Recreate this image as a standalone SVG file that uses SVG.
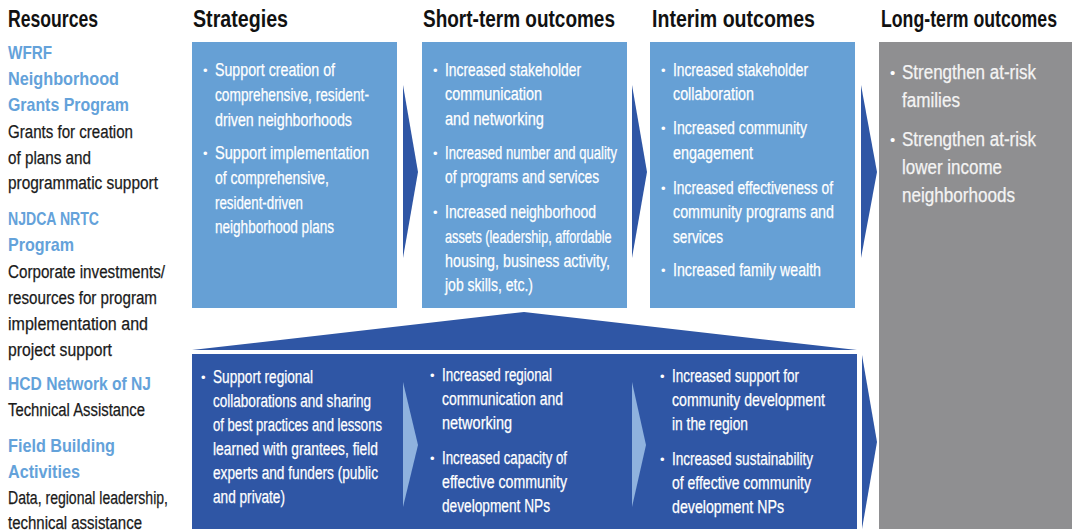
<svg xmlns="http://www.w3.org/2000/svg" width="1072" height="531" viewBox="0 0 1072 531">
  <style>
    text { font-family: "Liberation Sans", Arial, sans-serif; }
    .h { font-size: 23px; font-weight: bold; fill: #111111; }
    .rh { font-size: 19px; font-weight: bold; fill: #64a2da; }
    .r { font-size: 18px; fill: #1a1a1a; stroke: #1a1a1a; stroke-width: 0.25px; }
    .b { font-size: 18px; fill: #ffffff; stroke: #ffffff; stroke-width: 0.25px; }
    .lb { font-size: 19.5px; fill: #f4f4f4; stroke: #f4f4f4; stroke-width: 0.25px; }
    .dot { font-size: 13px; fill: #ffffff; }
    .light { fill: #66a0d5; }
    .dark { fill: #2f56a5; }
    .grey { fill: #8f8f91; }
    .arrow { fill: #2f56a5; }
    .arrow-soft { fill: #8fb2de; }
  </style>

  <rect width="1072" height="531" fill="#ffffff"/>

  <!-- column headings -->
  <g id="headings">
    <text class="h" x="8" y="27" textLength="90" lengthAdjust="spacingAndGlyphs">Resources</text>
    <text class="h" x="193" y="27" textLength="95" lengthAdjust="spacingAndGlyphs">Strategies</text>
    <text class="h" x="423" y="27" textLength="192" lengthAdjust="spacingAndGlyphs">Short-term outcomes</text>
    <text class="h" x="652" y="27" textLength="163" lengthAdjust="spacingAndGlyphs">Interim outcomes</text>
    <text class="h" transform="translate(881,27) scale(0.77,1)">Long-term outcomes</text>
  </g>

  <!-- resources column -->
  <g id="resources">
    <text class="rh" x="8" y="59" textLength="44" lengthAdjust="spacingAndGlyphs">WFRF</text>
    <text class="rh" x="8" y="85" textLength="111" lengthAdjust="spacingAndGlyphs">Neighborhood</text>
    <text class="rh" x="8" y="111" textLength="121" lengthAdjust="spacingAndGlyphs">Grants Program</text>
    <text class="r" x="8" y="138" textLength="125" lengthAdjust="spacingAndGlyphs">Grants for creation</text>
    <text class="r" x="8" y="164" textLength="83" lengthAdjust="spacingAndGlyphs">of plans and</text>
    <text class="r" x="8" y="189" textLength="150" lengthAdjust="spacingAndGlyphs">programmatic support</text>
    <text class="rh" x="8" y="225" textLength="91" lengthAdjust="spacingAndGlyphs">NJDCA NRTC</text>
    <text class="rh" x="8" y="251" textLength="66" lengthAdjust="spacingAndGlyphs">Program</text>
    <text class="r" x="8" y="278" textLength="157" lengthAdjust="spacingAndGlyphs">Corporate investments/</text>
    <text class="r" x="8" y="304" textLength="149" lengthAdjust="spacingAndGlyphs">resources for program</text>
    <text class="r" x="8" y="330" textLength="140" lengthAdjust="spacingAndGlyphs">implementation and</text>
    <text class="r" x="8" y="356" textLength="104" lengthAdjust="spacingAndGlyphs">project support</text>
    <text class="rh" x="8" y="390" textLength="143" lengthAdjust="spacingAndGlyphs">HCD Network of NJ</text>
    <text class="r" x="8" y="416" textLength="137" lengthAdjust="spacingAndGlyphs">Technical Assistance</text>
    <text class="rh" x="8" y="452" textLength="107" lengthAdjust="spacingAndGlyphs">Field Building</text>
    <text class="rh" x="8" y="478" textLength="72" lengthAdjust="spacingAndGlyphs">Activities</text>
    <text class="r" x="8" y="504" textLength="160" lengthAdjust="spacingAndGlyphs">Data, regional leadership,</text>
    <text class="r" x="8" y="529" textLength="134" lengthAdjust="spacingAndGlyphs">technical assistance</text>
  </g>

  <!-- neighborhood track -->
  <g id="strategies">
    <rect class="light" x="192" y="42" width="205" height="266"/>
    <text class="dot" x="203" y="75">•</text>
    <text class="b" x="215" y="76" textLength="120" lengthAdjust="spacingAndGlyphs">Support creation of</text>
    <text class="b" x="215" y="101" textLength="154" lengthAdjust="spacingAndGlyphs">comprehensive, resident-</text>
    <text class="b" x="215" y="126" textLength="137" lengthAdjust="spacingAndGlyphs">driven neighborhoods</text>
    <text class="dot" x="203" y="158">•</text>
    <text class="b" x="215" y="159" textLength="154" lengthAdjust="spacingAndGlyphs">Support implementation</text>
    <text class="b" x="215" y="184" textLength="114" lengthAdjust="spacingAndGlyphs">of comprehensive,</text>
    <text class="b" x="215" y="209" textLength="88" lengthAdjust="spacingAndGlyphs">resident-driven</text>
    <text class="b" x="215" y="233" textLength="119" lengthAdjust="spacingAndGlyphs">neighborhood plans</text>
  </g>

  <g id="short-term">
    <rect class="light" x="422" y="42" width="205" height="266"/>
    <text class="dot" x="433" y="75">•</text>
    <text class="b" x="445" y="76" textLength="136" lengthAdjust="spacingAndGlyphs">Increased stakeholder</text>
    <text class="b" x="445" y="100" textLength="97" lengthAdjust="spacingAndGlyphs">communication</text>
    <text class="b" x="445" y="125" textLength="99" lengthAdjust="spacingAndGlyphs">and networking</text>
    <text class="dot" x="433" y="158">•</text>
    <text class="b" x="445" y="159" textLength="172" lengthAdjust="spacingAndGlyphs">Increased number and quality</text>
    <text class="b" x="445" y="183" textLength="154" lengthAdjust="spacingAndGlyphs">of programs and services</text>
    <text class="dot" x="433" y="217">•</text>
    <text class="b" x="445" y="218" textLength="151" lengthAdjust="spacingAndGlyphs">Increased neighborhood</text>
    <text class="b" transform="translate(445,243) scale(0.707,1)">assets (leadership, affordable</text>
    <text class="b" x="445" y="267" textLength="165" lengthAdjust="spacingAndGlyphs">housing, business activity,</text>
    <text class="b" x="445" y="291" textLength="88" lengthAdjust="spacingAndGlyphs">job skills, etc.)</text>
  </g>

  <g id="interim">
    <rect class="light" x="650" y="42" width="205" height="266"/>
    <text class="dot" x="661" y="75">•</text>
    <text class="b" x="673" y="76" textLength="135" lengthAdjust="spacingAndGlyphs">Increased stakeholder</text>
    <text class="b" x="673" y="100" textLength="81" lengthAdjust="spacingAndGlyphs">collaboration</text>
    <text class="dot" x="661" y="133">•</text>
    <text class="b" x="673" y="134" textLength="134" lengthAdjust="spacingAndGlyphs">Increased community</text>
    <text class="b" x="673" y="159" textLength="80" lengthAdjust="spacingAndGlyphs">engagement</text>
    <text class="dot" x="661" y="193">•</text>
    <text class="b" x="673" y="194" textLength="160" lengthAdjust="spacingAndGlyphs">Increased effectiveness of</text>
    <text class="b" x="673" y="218" textLength="161" lengthAdjust="spacingAndGlyphs">community programs and</text>
    <text class="b" x="673" y="243" textLength="50" lengthAdjust="spacingAndGlyphs">services</text>
    <text class="dot" x="661" y="275">•</text>
    <text class="b" x="673" y="276" textLength="148" lengthAdjust="spacingAndGlyphs">Increased family wealth</text>
  </g>

  <g id="long-term">
    <rect class="grey" x="879" y="42" width="193" height="487"/>
    <text class="dot" x="890" y="78" style="font-size:15px">•</text>
    <text class="lb" x="902" y="79" textLength="134" lengthAdjust="spacingAndGlyphs">Strengthen at-risk</text>
    <text class="lb" x="902" y="107" textLength="58" lengthAdjust="spacingAndGlyphs">families</text>
    <text class="dot" x="890" y="145" style="font-size:15px">•</text>
    <text class="lb" x="902" y="146" textLength="134" lengthAdjust="spacingAndGlyphs">Strengthen at-risk</text>
    <text class="lb" x="902" y="174" textLength="100" lengthAdjust="spacingAndGlyphs">lower income</text>
    <text class="lb" x="902" y="202" textLength="113" lengthAdjust="spacingAndGlyphs">neighborhoods</text>
  </g>

  <!-- regional field-building track -->
  <g id="regional-track">
    <polygon class="dark" points="192,350 524,312 857,350"/>
    <rect class="dark" x="192" y="354" width="665" height="175"/>
  </g>

  <g id="regional-strategies">
    <text class="dot" x="201" y="382">•</text>
    <text class="b" x="213" y="383" textLength="100" lengthAdjust="spacingAndGlyphs">Support regional</text>
    <text class="b" x="213" y="407" textLength="158" lengthAdjust="spacingAndGlyphs">collaborations and sharing</text>
    <text class="b" x="213" y="431" textLength="169" lengthAdjust="spacingAndGlyphs">of best practices and lessons</text>
    <text class="b" x="213" y="455" textLength="165" lengthAdjust="spacingAndGlyphs">learned with grantees, field</text>
    <text class="b" x="213" y="479" textLength="165" lengthAdjust="spacingAndGlyphs">experts and funders (public</text>
    <text class="b" x="213" y="503" textLength="72" lengthAdjust="spacingAndGlyphs">and private)</text>
  </g>

  <g id="regional-short-term">
    <text class="dot" x="430" y="380">•</text>
    <text class="b" x="442" y="381" textLength="110" lengthAdjust="spacingAndGlyphs">Increased regional</text>
    <text class="b" x="442" y="405" textLength="121" lengthAdjust="spacingAndGlyphs">communication and</text>
    <text class="b" x="442" y="429" textLength="70" lengthAdjust="spacingAndGlyphs">networking</text>
    <text class="dot" x="430" y="463">•</text>
    <text class="b" x="442" y="464" textLength="125" lengthAdjust="spacingAndGlyphs">Increased capacity of</text>
    <text class="b" x="442" y="488" textLength="125" lengthAdjust="spacingAndGlyphs">effective community</text>
    <text class="b" x="442" y="512" textLength="108" lengthAdjust="spacingAndGlyphs">development NPs</text>
  </g>

  <g id="regional-interim">
    <text class="dot" x="660" y="381">•</text>
    <text class="b" x="672" y="382" textLength="127" lengthAdjust="spacingAndGlyphs">Increased support for</text>
    <text class="b" x="672" y="406" textLength="153" lengthAdjust="spacingAndGlyphs">community development</text>
    <text class="b" x="672" y="430" textLength="76" lengthAdjust="spacingAndGlyphs">in the region</text>
    <text class="dot" x="660" y="464">•</text>
    <text class="b" x="672" y="465" textLength="141" lengthAdjust="spacingAndGlyphs">Increased sustainability</text>
    <text class="b" x="672" y="489" textLength="139" lengthAdjust="spacingAndGlyphs">of effective community</text>
    <text class="b" x="672" y="513" textLength="112" lengthAdjust="spacingAndGlyphs">development NPs</text>
  </g>

  <!-- chevron connectors between stages -->
  <g id="connectors">
    <polygon class="arrow" points="403,85 418,172 403,258"/>
    <polygon class="arrow" points="632,85 647,172 632,258"/>
    <polygon class="arrow" points="861,85 877,172 861,258"/>
    <polygon class="arrow" points="862,355 877,442 862,529"/>
    <polygon class="arrow-soft" points="403,382 418,445 403,507"/>
    <polygon class="arrow-soft" points="632,382 646,445 632,507"/>
  </g>
</svg>
